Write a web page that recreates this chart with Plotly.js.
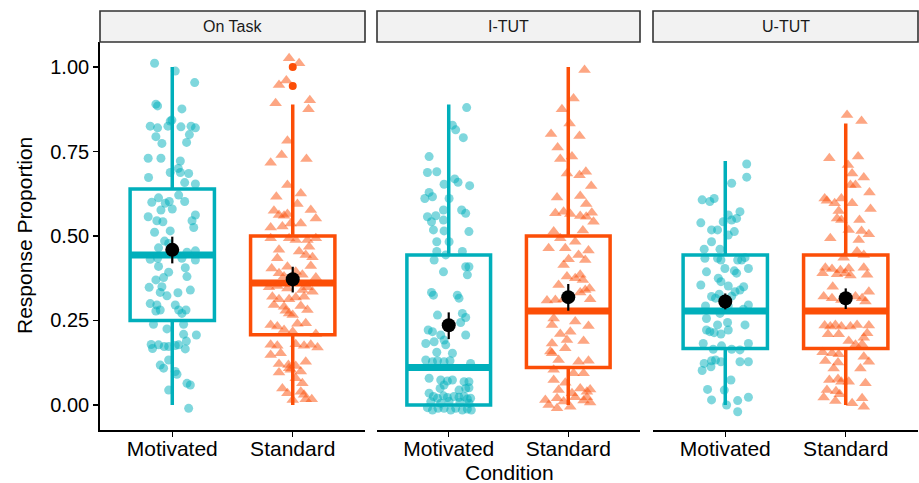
<!DOCTYPE html>
<html>
<head>
<meta charset="utf-8">
<script src="https://cdn.plot.ly/plotly-3.0.1.min.js"></script>
<style>html,body{margin:0;padding:0;background:#fff;}#chart{width:919px;height:483px;}</style>
</head>
<body>
<div id="chart"></div>
<script>
// ---------------- data ----------------
const facets = ['On Task', 'I-TUT', 'U-TUT'];
const conditions = ['Motivated', 'Standard'];

// boxplot statistics per facet
const mot_q1 = [0.25, 0.0, 0.167];
const mot_med = [0.444, 0.111, 0.278];
const mot_q3 = [0.639, 0.444, 0.444];
const mot_lo = [0.0, 0.0, 0.0];
const mot_hi = [1.0, 0.889, 0.722];
const std_q1 = [0.208, 0.111, 0.167];
const std_med = [0.361, 0.278, 0.278];
const std_q3 = [0.5, 0.5, 0.444];
const std_lo = [0.0, 0.0, 0.0];
const std_hi = [0.889, 1.0, 0.833];

// means with error bars
const mot_mean = [0.459, 0.236, 0.306];
const mot_err_lo = [0.419, 0.195, 0.283];
const mot_err_hi = [0.498, 0.274, 0.330];
const std_mean = [0.372, 0.319, 0.316];
const std_err_lo = [0.333, 0.279, 0.284];
const std_err_hi = [0.409, 0.358, 0.345];

// outliers (Standard, per facet)
const std_outliers = [[1.0, 0.944], [], []];

// jittered individual points (values and horizontal jitter)
const ontask_mot_y = [1.011,0.988,0.954,0.89,0.885,0.876,0.84,0.843,0.825,0.82,0.825,0.823,0.825,0.82,0.8,0.777,0.794,0.774,0.73,0.73,0.722,0.70,0.688,0.688,0.685,0.673,0.658,0.654,0.621,0.602,0.60,0.613,0.597,0.602,0.577,0.58,0.557,0.562,0.545,0.525,0.545,0.542,0.511,0.515,0.485,0.478,0.465,0.456,0.452,0.434,0.431,0.434,0.429,0.41,0.406,0.393,0.377,0.37,0.38,0.348,0.35,0.34,0.332,0.333,0.323,0.30,0.296,0.281,0.278,0.296,0.281,0.281,0.271,0.239,0.225,0.239,0.209,0.207,0.189,0.178,0.179,0.167,0.178,0.173,0.173,0.176,0.166,0.133,0.118,0.109,0.099,0.091,0.064,0.059,0.044,-0.01];
const ontask_mot_dx = [-0.147,0.025,0.186,-0.136,-0.122,0.08,-0.017,-0.003,-0.183,-0.122,-0.036,0.072,0.156,0.192,0.142,0.119,-0.136,-0.086,-0.2,-0.094,0.067,0.05,0.067,-0.017,0.136,-0.197,0.103,0.192,0.053,0.103,-0.17,-0.114,-0.058,-0.025,-0.094,0,-0.2,0.192,0.164,0.178,-0.128,-0.078,-0.147,-0.017,-0.064,-0.03,-0.114,0.192,0.122,-0.122,-0.183,0.08,0.192,-0.114,0.108,-0.03,-0.072,-0.136,0.122,-0.192,-0.086,0.15,0.047,-0.1,-0.044,-0.183,-0.128,-0.1,-0.136,0.025,0.053,0.114,0.08,-0.156,-0.044,0.094,0.094,0.2,0.117,0.053,-0.175,-0.164,-0.114,-0.067,-0.03,0.025,0.108,-0.03,-0.1,-0.072,0.025,0.039,0.122,0.15,-0.03,0.136];
const ontask_std_y = [1.026,1.011,0.947,0.96,0.893,0.902,0.875,0.782,0.74,0.717,0.728,0.651,0.616,0.626,0.595,0.575,0.562,0.56,0.565,0.577,0.552,0.537,0.537,0.525,0.528,0.493,0.493,0.488,0.488,0.493,0.459,0.468,0.454,0.444,0.434,0.437,0.404,0.409,0.411,0.39,0.394,0.385,0.38,0.377,0.348,0.352,0.345,0.34,0.348,0.335,0.32,0.313,0.313,0.318,0.32,0.296,0.291,0.271,0.293,0.281,0.279,0.266,0.237,0.232,0.24,0.242,0.222,0.217,0.21,0.178,0.175,0.18,0.175,0.178,0.17,0.148,0.153,0.128,0.121,0.118,0.109,0.115,0.099,0.096,0.104,0.079,0.064,0.049,0.035,0.039,0.03,0.017,0.017,0.015];
const ontask_std_dx = [-0.03,0.053,-0.114,-0.053,-0.142,0.142,0.131,-0.044,-0.092,-0.183,0.114,-0.044,-0.136,0.067,0.039,-0.156,-0.114,-0.072,-0.044,0.15,0.192,-0.017,0.067,-0.183,-0.086,-0.183,-0.03,0.025,0.122,0.192,-0.114,0.136,0.053,0.108,-0.128,0.164,-0.175,-0.044,0.15,-0.114,0.025,0.08,-0.072,0.192,-0.197,-0.128,-0.044,0.08,0.122,0.164,-0.169,-0.114,-0.03,0.025,0.094,-0.156,-0.072,-0.03,0.067,0.122,-0.058,0,-0.183,-0.128,0.039,0.108,-0.072,0,0.192,-0.183,-0.128,0.025,0.094,0.15,0.206,-0.183,-0.1,0.108,-0.114,-0.036,-0.03,0.025,0.067,-0.114,-0.017,0.025,0.08,-0.086,-0.044,0.067,0.094,0.108,0.158,0];
const itut_mot_y = [0.88,0.828,0.814,0.791,0.735,0.688,0.69,0.669,0.659,0.653,0.649,0.629,0.611,0.616,0.611,0.577,0.577,0.567,0.557,0.56,0.542,0.547,0.518,0.515,0.513,0.483,0.483,0.454,0.454,0.444,0.429,0.409,0.409,0.385,0.394,0.333,0.325,0.325,0.316,0.266,0.271,0.259,0.244,0.222,0.217,0.207,0.207,0.192,0.182,0.187,0.178,0.156,0.153,0.133,0.128,0.131,0.128,0.131,0.123,0.079,0.074,0.071,0.074,0.069,0.069,0.059,0.049,0.044,0.049,0.051,0.035,0.025,0.02,0.027,0.022,0.025,0.023,0.025,0.018,0.02,-0.008,-0.015,-0.01,-0.01,-0.015,-0.01,-0.015,-0.012,-0.015,0.01,0.005,0.01,0.008,0.005];
const itut_mot_dx = [0.15,0.031,0.058,0.122,-0.164,-0.178,-0.1,0.05,0.078,-0.039,0.175,-0.164,-0.2,-0.136,0.003,-0.044,0.108,0.142,-0.178,-0.108,-0.144,-0.044,-0.128,-0.039,0.169,-0.1,0.003,0.114,-0.1,-0.025,-0.122,0.142,0.169,0.156,-0.044,-0.144,-0.128,0.072,0.086,-0.094,0.114,0.142,0.1,-0.172,-0.136,0.142,-0.067,-0.039,-0.192,-0.122,-0.025,-0.1,0.031,-0.192,-0.136,-0.094,-0.039,0.011,0.183,-0.164,-0.067,-0.011,0.031,0.128,0.169,-0.039,-0.072,0.086,0.142,0.169,-0.164,-0.128,-0.094,-0.044,-0.011,0.044,0.086,0.128,0.156,0.183,-0.178,-0.136,-0.089,-0.039,0.017,0.058,0.114,0.156,0.189,-0.15,-0.067,0.003,0.094,0.169];
const itut_std_y = [0.991,0.907,0.875,0.833,0.802,0.796,0.762,0.728,0.735,0.685,0.68,0.69,0.648,0.614,0.618,0.595,0.567,0.572,0.565,0.559,0.557,0.569,0.542,0.513,0.516,0.493,0.483,0.464,0.464,0.457,0.431,0.444,0.414,0.429,0.375,0.37,0.385,0.38,0.355,0.34,0.345,0.333,0.309,0.311,0.313,0.313,0.256,0.237,0.247,0.234,0.21,0.217,0.182,0.158,0.192,0.189,0.168,0.153,0.133,0.128,0.131,0.104,0.094,0.094,0.074,0.066,0.049,0.039,0.046,0.044,0.015,0.02,0.035,0.023,0.01,-0.005,0.013,0.007,0,-0.01,0.023];
const itut_std_dx = [0.136,0.044,-0.053,0.011,-0.144,0.094,-0.089,-0.067,0.031,-0.011,0.094,0.147,0.192,-0.094,0.1,0.15,-0.108,-0.039,0.017,0.1,0.15,0.197,0.211,-0.122,0.122,-0.067,0.058,-0.164,-0.025,0.169,0.003,0.086,-0.039,0.142,0.058,0.122,0.1,-0.011,-0.081,0.142,0.178,0.1,-0.178,-0.108,-0.039,0.183,-0.122,-0.136,0.058,0.169,-0.067,0.017,-0.136,-0.15,-0.011,0.128,-0.025,-0.136,-0.081,0.086,0.169,-0.122,0.128,0.044,-0.122,-0.025,0.1,0.156,0.183,-0.081,-0.192,-0.094,0.031,0.058,-0.039,0.017,0.128,0.183,-0.164,-0.094,0.156];
const utut_mot_y = [0.713,0.674,0.656,0.607,0.602,0.611,0.572,0.562,0.547,0.552,0.539,0.542,0.518,0.518,0.513,0.503,0.483,0.461,0.461,0.434,0.429,0.436,0.429,0.429,0.434,0.394,0.404,0.397,0.39,0.404,0.355,0.375,0.365,0.352,0.35,0.34,0.335,0.321,0.316,0.328,0.322,0.293,0.293,0.296,0.283,0.271,0.256,0.244,0.237,0.237,0.222,0.217,0.214,0.21,0.222,0.182,0.165,0.175,0.182,0.163,0.165,0.131,0.133,0.128,0.123,0.113,0.102,0.128,0.128,0.074,0.046,0.044,0.015,0,0.013,0.023,-0.02];
const utut_mot_dx = [0.178,0.178,0.053,-0.192,-0.128,-0.092,0.122,0.025,0.053,0.094,-0.203,-0.017,-0.114,-0.064,0.075,0.025,-0.114,-0.175,-0.044,-0.064,-0.036,0.164,0.136,0.103,-0.169,-0.156,-0.003,0.075,0.094,0.192,-0.203,-0.058,-0.036,0.025,0.153,0.122,0.081,-0.114,-0.081,-0.05,0.053,0.025,-0.164,0.192,0.15,-0.044,-0.156,0.019,0.164,-0.064,-0.156,-0.128,-0.092,-0.036,0.025,-0.183,-0.1,-0.031,0.192,0.122,0.053,-0.114,-0.081,-0.036,-0.175,-0.119,-0.192,0.122,0.192,0.047,-0.147,-0.008,-0.114,0.011,0.103,0.192,0.103];
const utut_std_y = [0.858,0.84,0.73,0.735,0.71,0.685,0.673,0.651,0.651,0.629,0.611,0.604,0.597,0.611,0.597,0.574,0.58,0.552,0.547,0.547,0.518,0.515,0.505,0.493,0.488,0.454,0.444,0.436,0.406,0.402,0.399,0.404,0.406,0.385,0.39,0.387,0.39,0.383,0.35,0.321,0.316,0.311,0.321,0.316,0.335,0.306,0.235,0.232,0.237,0.232,0.232,0.237,0.235,0.212,0.199,0.209,0.209,0.189,0.178,0.18,0.156,0.153,0.15,0.143,0.128,0.108,0.13,0.126,0.108,0.074,0.077,0.069,0.069,0.064,0.044,0.041,0.032,0.022,0.005,0.02,-0.005,0.012];
const utut_std_dx = [0.011,0.131,-0.136,0.103,0.019,0.053,0.15,0.039,0.081,0.197,-0.175,-0.156,-0.092,-0.036,0.053,-0.058,0.206,-0.072,-0.036,0.114,0.025,0.131,0.192,-0.128,0.108,0.094,0.15,-0.017,-0.169,-0.114,-0.044,0.025,0.15,0.178,-0.192,-0.072,-0.003,0.039,-0.108,-0.183,-0.114,-0.036,0.081,0.136,0.192,0.164,-0.175,-0.128,-0.086,-0.036,0.039,0.094,0.192,0.178,0.15,-0.147,-0.058,0.025,0.081,0.136,-0.192,-0.114,-0.058,0.15,0.192,0.122,-0.169,-0.064,-0.1,-0.136,-0.064,-0.036,0.025,0.164,-0.156,-0.081,-0.05,-0.183,0.053,0.136,0.15,-0.086];

const yTicks = [0, 0.25, 0.5, 0.75, 1.0];
const yTickText = ['0.00', '0.25', '0.50', '0.75', '1.00'];

// ---------------- styling ----------------
const TEAL = '#00AFBB';
const ORANGE = '#FC4E07';
const FONT = 'Liberation Sans, Arial, sans-serif';
const W = 919, H = 483;
const xDomains = [[100/W, 365/W], [377/W, 640/W], [653/W, 918/W]];
const yDomain = [1 - 430/H, 1 - 42/H];
const stripTop = 1 - 11/H;
const boxW = 0.7;

const pointsMot = [[ontask_mot_y, ontask_mot_dx], [itut_mot_y, itut_mot_dx], [utut_mot_y, utut_mot_dx]];
const pointsStd = [[ontask_std_y, ontask_std_dx], [itut_std_y, itut_std_dx], [utut_std_y, utut_std_dx]];

const axNames = ['x', 'x2', 'x3'];
const boxes = [], medians = [], pts = [], means = [];

facets.forEach((f, i) => {
  const xa = axNames[i];
  const groups = [
    {pos: 1, color: TEAL, q1: mot_q1, med: mot_med, q3: mot_q3, lo: mot_lo, hi: mot_hi, mean: mot_mean, elo: mot_err_lo, ehi: mot_err_hi, p: pointsMot[i], sym: 'circle', size: 9},
    {pos: 2, color: ORANGE, q1: std_q1, med: std_med, q3: std_q3, lo: std_lo, hi: std_hi, mean: std_mean, elo: std_err_lo, ehi: std_err_hi, p: pointsStd[i], sym: 'triangle-up', size: 11}
  ];
  groups.forEach(g => {
    boxes.push({
      type: 'box', xaxis: xa, yaxis: 'y', x: [g.pos],
      q1: [g.q1[i]], median: [g.med[i]], q3: [g.q3[i]],
      lowerfence: [g.lo[i]], upperfence: [g.hi[i]],
      width: boxW, fillcolor: 'rgba(255,255,255,1)', boxpoints: false,
      line: {color: g.color, width: 3.5}, whiskerwidth: 0,
      hoverinfo: 'skip', showlegend: false
    });
    medians.push({
      type: 'scatter', mode: 'lines', xaxis: xa, yaxis: 'y',
      x: [g.pos - boxW/2, g.pos + boxW/2], y: [g.med[i], g.med[i]],
      line: {color: g.color, width: 7}, hoverinfo: 'skip', showlegend: false
    });
    pts.push({
      type: 'scatter', mode: 'markers', xaxis: xa, yaxis: 'y',
      x: g.p[1].map(d => g.pos + d), y: g.p[0],
      marker: {symbol: g.sym, size: g.size, color: g.color, opacity: 0.5, line: {width: 0}},
      hoverinfo: 'skip', showlegend: false
    });
    means.push({
      type: 'scatter', mode: 'markers', xaxis: xa, yaxis: 'y',
      x: [g.pos], y: [g.mean[i]],
      error_y: {type: 'data', symmetric: false, array: [g.ehi[i] - g.mean[i]], arrayminus: [g.mean[i] - g.elo[i]], color: '#000', thickness: 2.2, width: 0},
      marker: {size: 14, color: '#000'}, hoverinfo: 'skip', showlegend: false
    });
  });
  if (std_outliers[i].length) {
    pts.push({
      type: 'scatter', mode: 'markers', xaxis: xa, yaxis: 'y',
      x: std_outliers[i].map(() => 2), y: std_outliers[i],
      marker: {symbol: 'circle', size: 8, color: ORANGE},
      hoverinfo: 'skip', showlegend: false
    });
  }
});

const data = boxes.concat(medians, pts, means);

const layout = {
  width: W, height: H,
  margin: {l: 0, r: 0, t: 0, b: 0},
  paper_bgcolor: '#fff', plot_bgcolor: 'rgba(0,0,0,0)',
  showlegend: false,
  font: {family: FONT, color: '#000'},
  yaxis: {
    domain: yDomain, range: [-0.074, 1.074], anchor: 'x',
    tickvals: yTicks, ticktext: yTickText,
    showline: true, linecolor: '#000', linewidth: 1.8,
    ticks: 'outside', ticklen: 5, tickwidth: 1.5, tickcolor: '#000',
    tickfont: {size: 20, color: '#000', family: FONT},
    showgrid: false, zeroline: false, fixedrange: true
  },
  shapes: [], annotations: []
};

facets.forEach((f, i) => {
  const key = i === 0 ? 'xaxis' : 'xaxis' + (i + 1);
  layout[key] = {
    domain: xDomains[i], range: [0.4, 2.6], anchor: 'y',
    tickvals: [1, 2], ticktext: conditions,
    showline: true, linecolor: '#000', linewidth: 1.8,
    ticks: 'outside', ticklen: 5, tickwidth: 1.5, tickcolor: '#000',
    ticklabelstandoff: -6,
    tickfont: {size: 21, color: '#000', family: FONT},
    showgrid: false, zeroline: false, fixedrange: true
  };
  layout.shapes.push({
    type: 'rect', xref: 'paper', yref: 'paper',
    x0: xDomains[i][0], x1: xDomains[i][1], y0: yDomain[1], y1: stripTop,
    fillcolor: '#f2f2f2', line: {color: '#333', width: 1.6}
  });
  layout.annotations.push({
    xref: 'paper', yref: 'paper',
    x: (xDomains[i][0] + xDomains[i][1]) / 2, y: (yDomain[1] + stripTop) / 2,
    text: f, showarrow: false, xanchor: 'center', yanchor: 'middle',
    font: {size: 16, color: '#1a1a1a', family: FONT}
  });
});

layout.annotations.push({
  xref: 'paper', yref: 'paper', x: 24/W, y: (yDomain[0] + yDomain[1]) / 2,
  text: 'Response Proportion', textangle: -90, showarrow: false,
  xanchor: 'center', yanchor: 'middle', font: {size: 21, color: '#000', family: FONT}
});
layout.annotations.push({
  xref: 'paper', yref: 'paper', x: (xDomains[0][0] + xDomains[2][1]) / 2, y: 1 - 472/H,
  text: 'Condition', showarrow: false,
  xanchor: 'center', yanchor: 'middle', font: {size: 21, color: '#000', family: FONT}
});

Plotly.newPlot('chart', data, layout, {displayModeBar: false, staticPlot: true});
</script>
</body>
</html>
